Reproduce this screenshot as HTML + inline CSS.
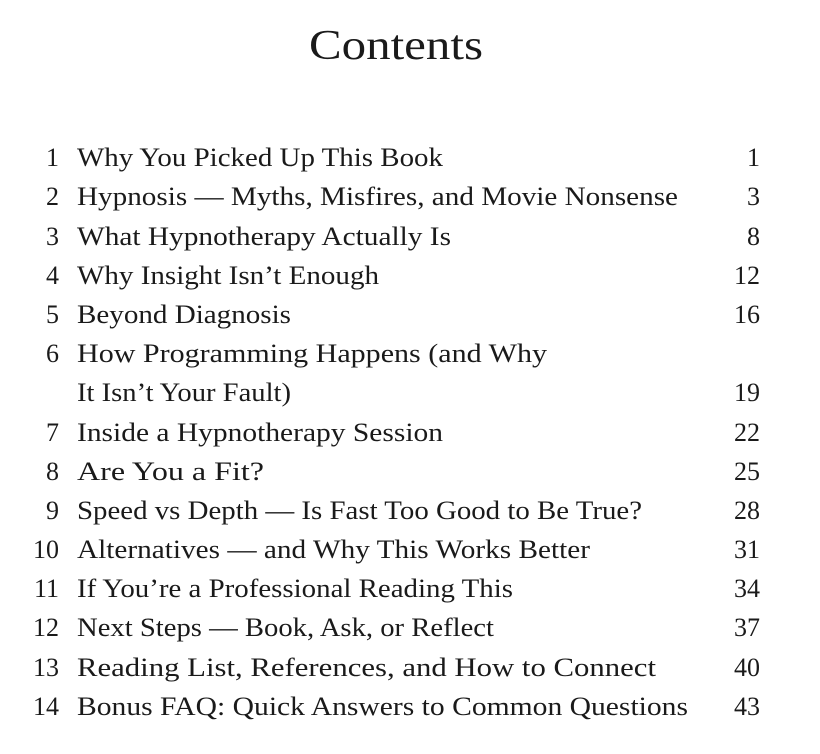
<!DOCTYPE html>
<html><head><meta charset="utf-8"><style>
html,body{margin:0;padding:0;background:#fff;}
svg{display:block;}
text{font-family:"Liberation Serif",serif;fill:#1a1a1a;}
</style></head><body>
<svg width="820" height="754" viewBox="0 0 820 754" xmlns="http://www.w3.org/2000/svg">
<text x="309" y="59" font-size="42" textLength="174" lengthAdjust="spacingAndGlyphs">Contents</text>
<g font-size="26">
<text x="59" y="166" text-anchor="end">1</text><text x="77" y="166" textLength="366" lengthAdjust="spacingAndGlyphs">Why You Picked Up This Book</text><text x="760" y="166" text-anchor="end">1</text>
<text x="59" y="205" text-anchor="end">2</text><text x="77" y="205" textLength="601" lengthAdjust="spacingAndGlyphs">Hypnosis — Myths, Misfires, and Movie Nonsense</text><text x="760" y="205" text-anchor="end">3</text>
<text x="59" y="245" text-anchor="end">3</text><text x="77" y="245" textLength="374" lengthAdjust="spacingAndGlyphs">What Hypnotherapy Actually Is</text><text x="760" y="245" text-anchor="end">8</text>
<text x="59" y="284" text-anchor="end">4</text><text x="77" y="284" textLength="302" lengthAdjust="spacingAndGlyphs">Why Insight Isn’t Enough</text><text x="760" y="284" text-anchor="end">12</text>
<text x="59" y="323" text-anchor="end">5</text><text x="77" y="323" textLength="214" lengthAdjust="spacingAndGlyphs">Beyond Diagnosis</text><text x="760" y="323" text-anchor="end">16</text>
<text x="59" y="362" text-anchor="end">6</text><text x="77" y="362" textLength="470" lengthAdjust="spacingAndGlyphs">How Programming Happens (and Why</text>
<text x="77" y="401" textLength="214" lengthAdjust="spacingAndGlyphs">It Isn’t Your Fault)</text><text x="760" y="401" text-anchor="end">19</text>
<text x="59" y="441" text-anchor="end">7</text><text x="77" y="441" textLength="366" lengthAdjust="spacingAndGlyphs">Inside a Hypnotherapy Session</text><text x="760" y="441" text-anchor="end">22</text>
<text x="59" y="480" text-anchor="end">8</text><text x="77" y="480" textLength="187" lengthAdjust="spacingAndGlyphs">Are You a Fit?</text><text x="760" y="480" text-anchor="end">25</text>
<text x="59" y="519" text-anchor="end">9</text><text x="77" y="519" textLength="565" lengthAdjust="spacingAndGlyphs">Speed vs Depth — Is Fast Too Good to Be True?</text><text x="760" y="519" text-anchor="end">28</text>
<text x="59" y="558" text-anchor="end">10</text><text x="77" y="558" textLength="513" lengthAdjust="spacingAndGlyphs">Alternatives — and Why This Works Better</text><text x="760" y="558" text-anchor="end">31</text>
<text x="59" y="597" text-anchor="end">11</text><text x="77" y="597" textLength="436" lengthAdjust="spacingAndGlyphs">If You’re a Professional Reading This</text><text x="760" y="597" text-anchor="end">34</text>
<text x="59" y="636" text-anchor="end">12</text><text x="77" y="636" textLength="417" lengthAdjust="spacingAndGlyphs">Next Steps — Book, Ask, or Reflect</text><text x="760" y="636" text-anchor="end">37</text>
<text x="59" y="676" text-anchor="end">13</text><text x="77" y="676" textLength="579" lengthAdjust="spacingAndGlyphs">Reading List, References, and How to Connect</text><text x="760" y="676" text-anchor="end">40</text>
<text x="59" y="715" text-anchor="end">14</text><text x="77" y="715" textLength="611" lengthAdjust="spacingAndGlyphs">Bonus FAQ: Quick Answers to Common Questions</text><text x="760" y="715" text-anchor="end">43</text>
</g>
</svg>
</body></html>
